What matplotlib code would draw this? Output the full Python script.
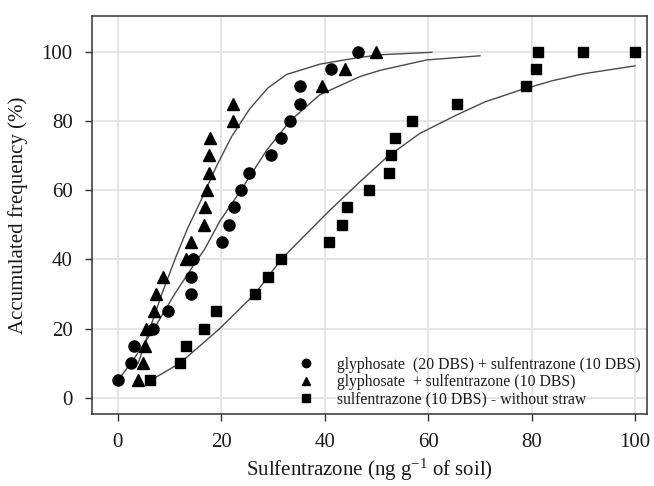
import numpy as np
import matplotlib
matplotlib.use("Agg")
import matplotlib.pyplot as plt

plt.rcParams['font.family'] = ['Liberation Serif', 'DejaVu Serif']
plt.rcParams['mathtext.fontset'] = 'custom'
plt.rcParams['mathtext.rm'] = 'Liberation Serif'
plt.rcParams['mathtext.it'] = 'Liberation Serif:italic'

# accumulated frequency levels (%)
freq = np.arange(5, 101, 5)

# glyphosate (20 DBS) + sulfentrazone (10 DBS)
circ_x = [0, 2.5, 3.2, 6.8, 9.6, 14.1, 14.1, 14.6, 20.2, 21.5,
          22.4, 23.8, 25.4, 29.6, 31.5, 33.3, 35.2, 35.2, 41.2, 46.5]
circ_y = list(freq)

# glyphosate + sulfentrazone (10 DBS)
tri_x = [3.9, 4.8, 5.2, 5.4, 7.0, 7.4, 8.8, 13.1, 14.1, 16.7,
         16.9, 17.2, 17.6, 17.6, 17.8, 22.3, 22.3, 39.4, 44.0, 50.0]
tri_y = list(freq)

# sulfentrazone (10 DBS) - without straw
sq_x = [6.3, 12.0, 13.2, 16.6, 18.9, 26.5, 29.0, 31.6, 40.9, 43.3, 44.3,
        48.6, 52.5, 52.9, 53.6, 56.9, 65.5, 79.0, 80.8, 81.2, 90.0, 100.0]
sq_y = list(freq[:19]) + [100, 100, 100]

# fitted curves
circ_fit_x = [0, 3, 7, 11, 14.5, 16.8, 19.7, 23.8, 28.8, 33.3, 39.0, 46.8, 50.7, 59.7, 70]
circ_fit_y = [5, 11, 20, 30, 38, 43, 51, 60, 71.6, 80, 87.5, 92.8, 94.6, 97.6, 98.8]

tri_fit_x = [3.9, 6.2, 8.5, 11.3, 13.5, 15.9, 19.1, 22.0, 25.5, 29.0, 32.6, 39.1, 46.2, 50.7, 60.7]
tri_fit_y = [9.9, 20, 30, 41, 49, 56.5, 67, 75.5, 83.5, 89.5, 93.4, 96.4, 98.2, 99.1, 99.8]

sq_fit_x = [6.3, 12.0, 19.7, 26.5, 31.6, 35.2, 41.0, 46.8, 52.0, 58.4, 65.5, 71.0, 77.8, 84.0, 90.0, 100.0]
sq_fit_y = [5, 10, 20, 30, 40, 45.5, 54.2, 62.4, 69.5, 76.4, 81.7, 85.5, 88.9, 91.6, 93.6, 95.9]

fig = plt.figure(figsize=(6.54, 4.86), dpi=100)
ax = fig.add_axes([0.1407, 0.1481, 0.8486, 0.819])

line_col = '#4a4a4a'
ax.plot(tri_fit_x, tri_fit_y, color=line_col, lw=1.0, zorder=2)
ax.plot(circ_fit_x, circ_fit_y, color=line_col, lw=1.0, zorder=2)
ax.plot(sq_fit_x, sq_fit_y, color=line_col, lw=1.0, zorder=2)

ax.plot(circ_x, circ_y, 'o', color='black', ms=8, ls='none', zorder=3,
        label='glyphosate  (20 DBS) + sulfentrazone (10 DBS)')
ax.plot(tri_x, tri_y, '^', color='black', ms=8, ls='none', zorder=3,
        label='glyphosate  + sulfentrazone (10 DBS)')
ax.plot(sq_x, sq_y, 's', color='black', ms=7, ls='none', zorder=3,
        label='sulfentrazone (10 DBS) - without straw')

ax.set_xlim(-5, 102.3)
ax.set_ylim(-4.7, 110.3)
ax.set_xticks([0, 20, 40, 60, 80, 100])
ax.set_yticks([0, 20, 40, 60, 80, 100])
ax.grid(True, color='#e3e3e3', lw=1.3)
ax.set_axisbelow(True)
for s in ax.spines.values():
    s.set_color('#333333')
    s.set_linewidth(1.1)
ax.tick_params(direction='out', length=5, width=1, color='#333333',
               labelsize=15, pad=9, labelcolor='#1a1a1a')

ax.set_xlabel(r'Sulfentrazone (ng g$^{\mathregular{-1}}$ of soil)', fontsize=15,
              labelpad=3, color='#1a1a1a')
ax.set_ylabel('Accumulated frequency (%)', fontsize=15, labelpad=10, color='#1a1a1a')

leg = ax.legend(loc='lower right', frameon=False, fontsize=11.3, handletextpad=1.0,
                labelspacing=0.1, markerscale=0.75, borderaxespad=0.0,
                bbox_to_anchor=(1.0, 0.0))
for t in leg.get_texts():
    t.set_color('#1a1a1a')

fig.savefig('out.png', dpi=100)
